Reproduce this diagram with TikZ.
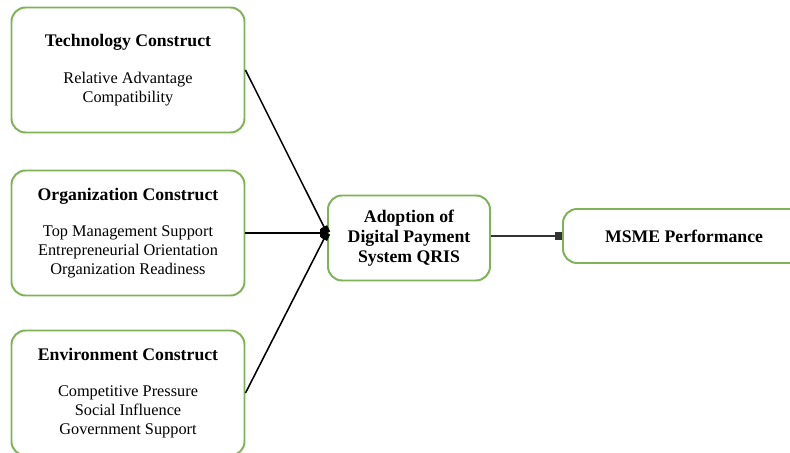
\documentclass[tikz,border=0pt]{standalone}
\usepackage{fontspec}
\setmainfont{Liberation Serif}
\usetikzlibrary{arrows.meta}

\definecolor{boxgreen}{RGB}{128,178,88}

\begin{document}
\begin{tikzpicture}[x=0.025cm,y=-0.025cm]

    \tikzset{
        construct/.style={shape=rectangle,rounded corners=10pt,draw=boxgreen,line width=1.4pt,
            fill=white,align=center,minimum width=233*0.025cm,minimum height=125*0.025cm,
            font=\fontsize{11.6}{13.5}\selectfont},
        outcome/.style={shape=rectangle,rounded corners=10pt,draw=boxgreen,line width=1.4pt,
            fill=white,align=center,font=\fontsize{12.6}{14.2}\selectfont\bfseries},
        link/.style={-{Square[length=5pt,width=5pt]},black,line width=1.1pt}
    }

    \useasboundingbox (0,0) rectangle (790,453);

    \node[construct] (T) at (128,70) {\textbf{\fontsize{12.6}{14}\selectfont Technology Construct}\\[12.5pt]
        Relative Advantage\\ Compatibility};
    \node[construct] (O) at (128,233) {\textbf{\fontsize{12.6}{14}\selectfont Organization Construct}\\[12.5pt]
        Top Management Support\\ Entrepreneurial Orientation\\ Organization Readiness};
    \node[construct] (E) at (128,393) {\textbf{\fontsize{12.6}{14}\selectfont Environment Construct}\\[12.5pt]
        Competitive Pressure\\ Social Influence\\ Government Support};

    \node[outcome,minimum width=162*0.025cm,minimum height=85*0.025cm] (Q) at (409,238)
        {Adoption of\\ Digital Payment\\ System QRIS};
    \node[outcome,minimum width=242*0.025cm,minimum height=54*0.025cm] (P) at (684,236)
        {MSME Performance};

    \coordinate (J) at (Q.west |- O.east);

   \draw[link]   (T.east) -- (J);
   \draw[link]   (O.east) -- (J);
   \draw[link]   (E.east) -- (J);
   \draw[link,black!80,line width=2pt]   (Q.east |- P.west) -- (P.west);
\end{tikzpicture}
\end{document}
